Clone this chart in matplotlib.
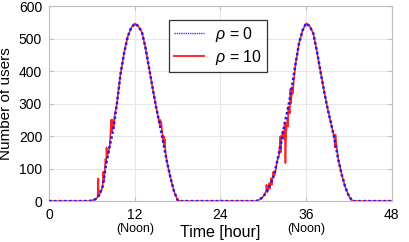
import matplotlib
matplotlib.use("Agg")
import matplotlib.pyplot as plt
import matplotlib.transforms as mtransforms
from matplotlib.lines import Line2D

plt.rcParams['font.family'] = ['Liberation Sans', 'DejaVu Sans']
plt.rcParams['mathtext.fontset'] = 'custom'
plt.rcParams['mathtext.it'] = 'Liberation Sans:italic'
plt.rcParams['mathtext.rm'] = 'Liberation Sans'

# ---- data ----
hours = [h * 0.5 for h in range(97)]
users_rho0 = (
    [0] * 12 +                                   # 0 .. 5.5
    [2, 6, 18, 45, 115, 170, 222, 300, 390, 455, 505, 533,   # 6 .. 11.5
     546, 538, 520, 472, 410, 348, 288, 235, 180, 122, 72, 30,  # 12 .. 17.5
     3] +                                        # 18
    [0] * 21 +                                   # 18.5 .. 28.5
    [0, 5, 14, 30, 52, 80, 128, 180, 239, 290, 350, 420, 485, 525,  # 29 .. 35.5
     547, 538, 516, 462, 400, 340, 285, 238, 188, 128, 80, 42, 15,   # 36 .. 42
     0] +                                        # 42.5
    [0] * 11                                     # 43 .. 48
)

noise_hours = [6.8, 6.9, 6.95, 7.3, 7.6, 7.7, 7.9, 8.05, 8.1, 8.3, 8.7, 8.8, 8.9, 9.1, 9.2,
               15.55, 15.6, 15.7, 16.05, 16.1, 16.2, 16.3,
               30.4, 30.45, 30.6, 30.8, 30.9, 31.1, 31.2, 31.4, 31.6, 32.2, 32.4, 32.45, 32.7,
               32.9, 33.1, 33.2, 33.4, 33.45, 33.6, 33.7, 33.8, 33.9, 34.05, 34.1,
               39.9, 40.05, 40.1, 40.2]
noise_users = [12, 70, 15, 30, 90, 60, 130, 165, 135, 150, 250, 215, 250, 235, 265,
               250, 232, 245, 200, 172, 190, 150,
               30, 50, 28, 55, 38, 70, 50, 90, 80, 140, 200, 150, 215,
               190, 117, 210, 255, 230, 290, 270, 345, 300, 350, 330,
               200, 165, 205, 180]

xticks = [0, 12, 24, 36, 48]
yticks = [0, 100, 200, 300, 400, 500, 600]
noon_hours = [12, 36]

# red series: base curve plus the fluctuations
red_pts = sorted(list(zip(hours, users_rho0)) + list(zip(noise_hours, noise_users)))
red_hours = [p[0] for p in red_pts]
red_users = [p[1] for p in red_pts]

fig = plt.figure(figsize=(4.09, 2.42), dpi=100)
ax = fig.add_axes([0.12, 0.169, 0.838, 0.806])

ax.plot(red_hours, red_users, color='#ff2020', lw=1.2, zorder=2)
ax.plot(hours, users_rho0, color='#1a1aff', lw=1.8, ls=(0, (1, 1)), zorder=3)

ax.set_xlim(0, 48)
ax.set_ylim(0, 600)
ax.set_xticks(xticks)
ax.set_yticks(yticks)
ax.grid(True, color='#e6e6e6', lw=0.8)
ax.set_axisbelow(True)
for s in ax.spines.values():
    s.set_color('#bdbdbd')
    s.set_linewidth(0.8)
ax.tick_params(direction='in', length=3, color='#bdbdbd', labelsize=10,
               right=True, top=True, pad=5)

ax.set_xlabel('Time [hour]', fontsize=11.5, labelpad=2)
ax.set_ylabel('Number of users', fontsize=11, labelpad=4)

trans = mtransforms.blended_transform_factory(ax.transData, ax.transAxes)
for h in noon_hours:
    ax.text(h, -0.11, '(Noon)', transform=trans, ha='center', va='top', fontsize=9)

handles = [Line2D([], [], color='#3a3aff', lw=1.0, ls=(0, (1, 0.6))),
           Line2D([], [], color='#ff3030', lw=1.5)]
leg = ax.legend(handles, [r'$\rho$ = 0', r'$\rho$ = 10'], loc='upper left',
                bbox_to_anchor=(0.35, 0.928),
                fontsize=11.5, frameon=True, fancybox=False, edgecolor='black',
                handlelength=1.9, handletextpad=0.7, borderpad=0.3, labelspacing=0.25,
                borderaxespad=0)
leg.get_frame().set_linewidth(0.9)

fig.savefig('out.png', dpi=100)
